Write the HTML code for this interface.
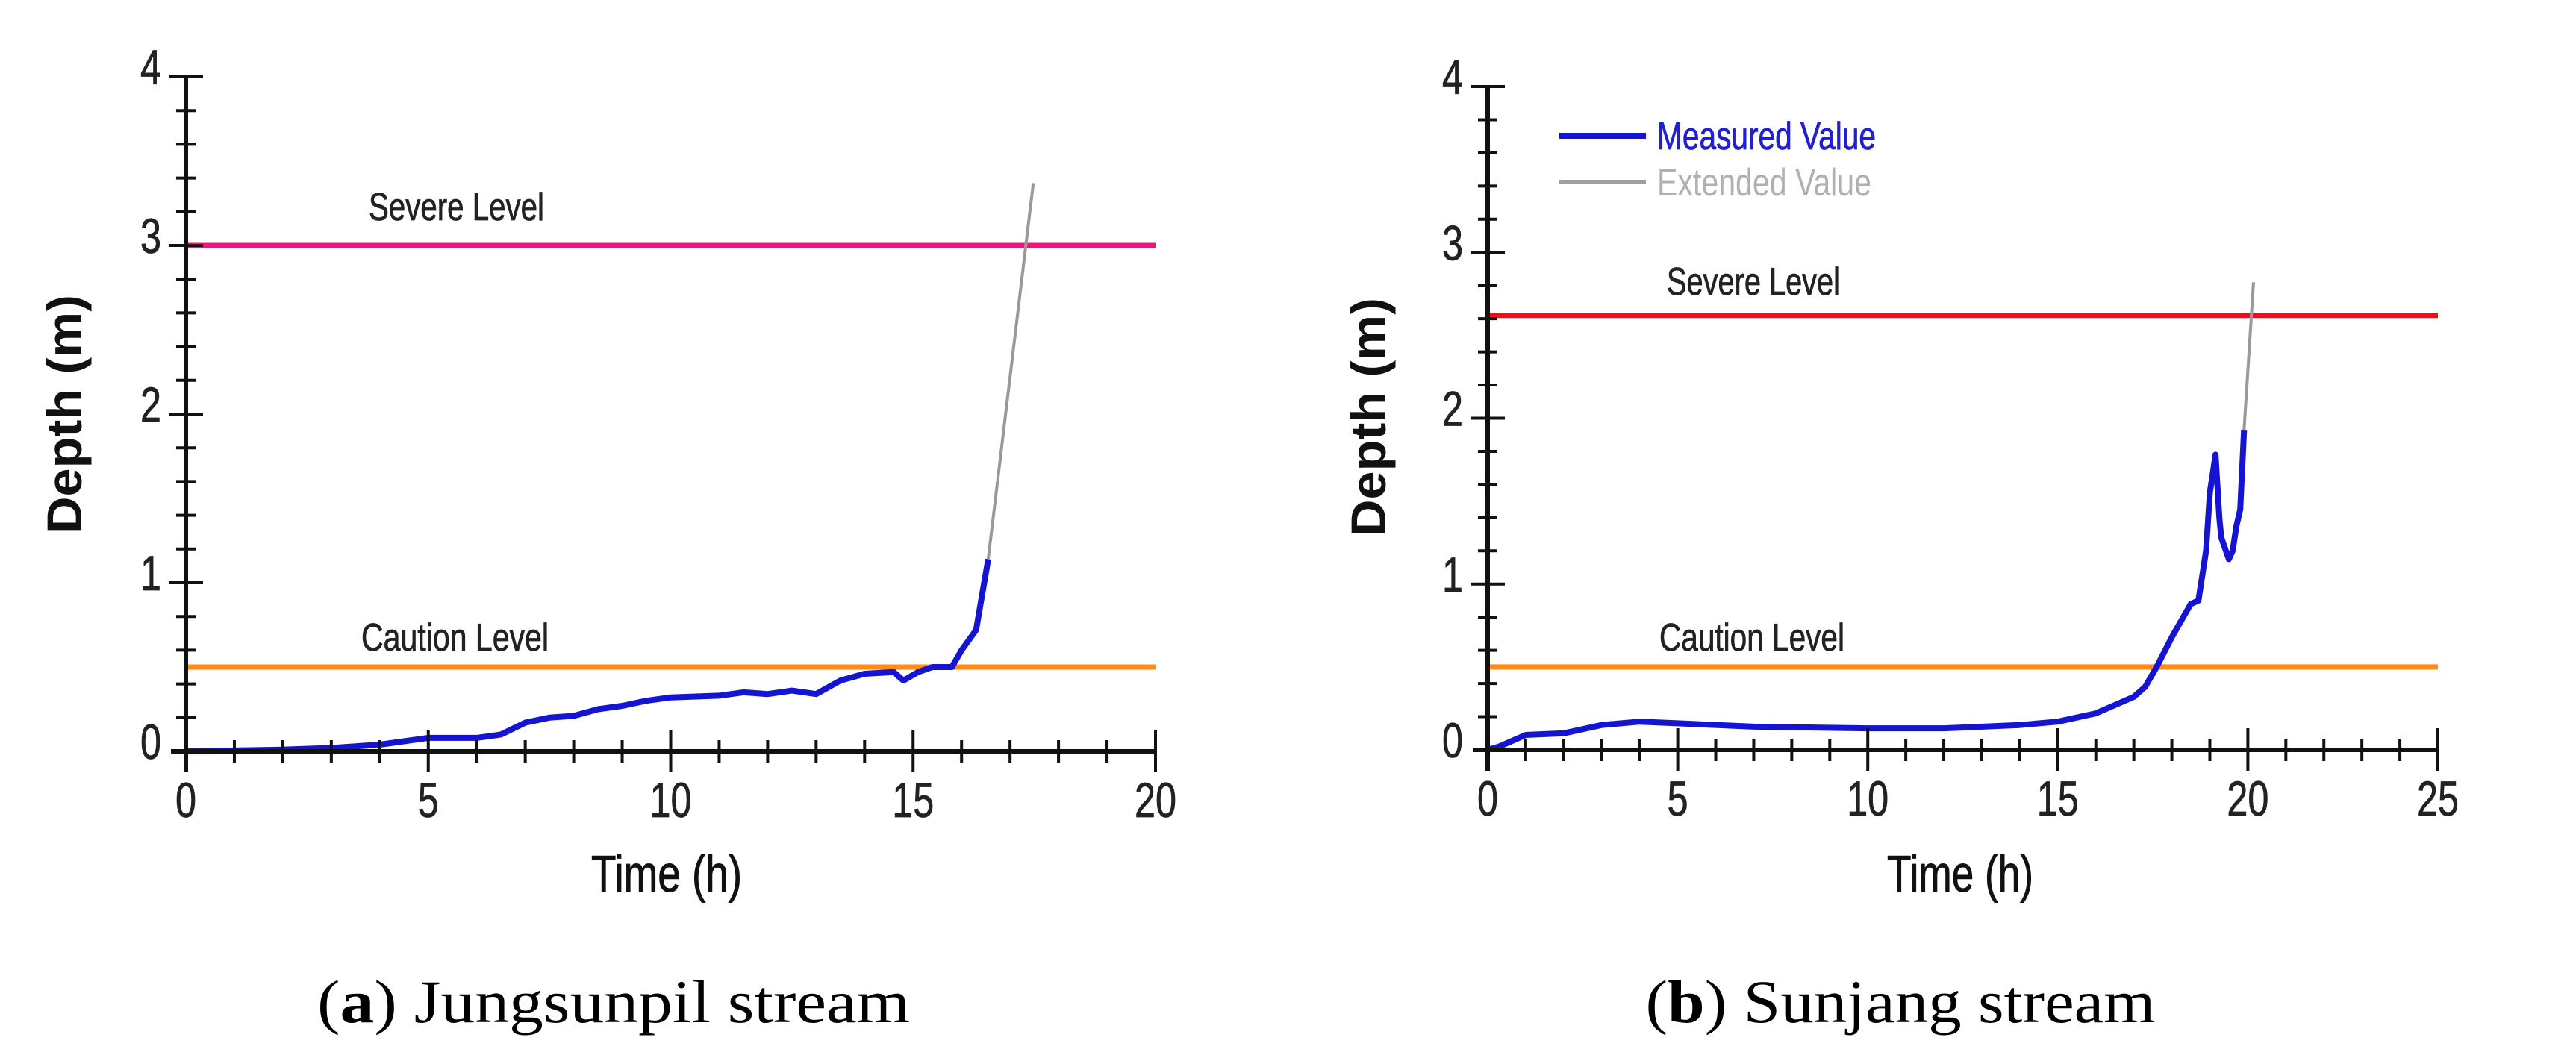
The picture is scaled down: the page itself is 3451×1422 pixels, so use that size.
<!DOCTYPE html>
<html><head><meta charset="utf-8"><style>
html,body{margin:0;padding:0;background:#fff;}
svg{display:block;}
</style></head><body>
<svg id="fig" width="3451" height="1422" viewBox="0 0 3451 1422" xmlns="http://www.w3.org/2000/svg" font-family="Liberation Sans, sans-serif">
<rect width="3451" height="1422" fill="#fff"/>
<g id="chartA"></g>
<g id="chartB"></g>
<text x="822" y="1370" font-family="Liberation Serif, serif" font-size="82" text-anchor="middle" textLength="794" lengthAdjust="spacingAndGlyphs">(<tspan font-weight="bold">a</tspan>) Jungsunpil stream</text>
<text x="2546" y="1370" font-family="Liberation Serif, serif" font-size="82" text-anchor="middle" textLength="683" lengthAdjust="spacingAndGlyphs">(<tspan font-weight="bold">b</tspan>) Sunjang stream</text>
</svg>
<script>
// Chart A data (Jungsunpil)
const aTimes = [0,2,3,4,5,6,6.5,7,7.5,8,8.5,9,9.5,10,11,11.5,12,12.5,13,13.5,14,14.6,14.8,15.1,15.4,15.8,16.0,16.3,16.55];
const aDepth = [0,0.01,0.02,0.04,0.08,0.08,0.1,0.17,0.2,0.21,0.25,0.27,0.3,0.32,0.33,0.35,0.34,0.36,0.34,0.42,0.46,0.47,0.42,0.47,0.5,0.5,0.6,0.72,1.14];
const aExtTimes = [16.55,17.48];
const aExtDepth = [1.14,3.37];
const aSevere = 3.0, aCaution = 0.5;
const aXTicks = ["0","5","10","15","20"];
const aYTicks = ["0","1","2","3","4"];
// Chart B data (Sunjang)
const bTimes = [0,0.3,0.6,1,2,3,4,5,7,10,12,14,15,16,16.5,17,17.3,17.6,18,18.3,18.5,18.7,18.9,19.0,19.15,19.25,19.3,19.5,19.6,19.7,19.8,19.9];
const bDepth = [0,0.02,0.05,0.09,0.1,0.15,0.17,0.16,0.14,0.13,0.13,0.15,0.17,0.22,0.27,0.32,0.38,0.5,0.68,0.8,0.88,0.9,1.2,1.55,1.78,1.4,1.28,1.15,1.2,1.35,1.45,1.93];
const bExtTimes = [19.9,20.15];
const bExtDepth = [1.93,2.82];
const bSevere = 2.62, bCaution = 0.5;
const bXTicks = ["0","5","10","15","20","25"];
const bYTicks = ["0","1","2","3","4"];

const NS="http://www.w3.org/2000/svg";
function mk(parent,tag,attrs,text){const e=document.createElementNS(NS,tag);for(const k in attrs)e.setAttribute(k,attrs[k]);if(text!==undefined)e.textContent=text;parent.appendChild(e);return e;}

function drawChart(g,cfg){
  const X=t=>cfg.x0+(t/cfg.xMax)*(cfg.x1-cfg.x0);
  const Y=v=>cfg.y0-(v/4)*(cfg.y0-cfg.y4);
  let e=mk(g,'line',{x1:X(0),x2:X(cfg.xMax),y1:Y(cfg.severe),y2:Y(cfg.severe),stroke:cfg.sevColor,'stroke-width':7});
  
  
  e=mk(g,'line',{x1:X(0),x2:X(cfg.xMax),y1:Y(cfg.caution),y2:Y(cfg.caution),stroke:'#ff8c1a','stroke-width':7});
  
  
  e=mk(g,'text',{x:cfg.sevLbl[0],y:cfg.sevLbl[1],'font-size':52,fill:'#222',stroke:'#222','stroke-width':0.8,textLength:cfg.sevLbl[2],lengthAdjust:'spacingAndGlyphs'},'Severe Level');
  
  
  e=mk(g,'text',{x:cfg.cauLbl[0],y:cfg.cauLbl[1],'font-size':52,fill:'#222',stroke:'#222','stroke-width':0.8,textLength:cfg.cauLbl[2],lengthAdjust:'spacingAndGlyphs'},'Caution Level');
  
  
  let d=cfg.times.map((t,i)=>(i?'L':'M')+X(t).toFixed(1)+','+Y(cfg.depth[i]).toFixed(1)).join(' ');
  e=mk(g,'path',{d:d,fill:'none',stroke:'#1414d2','stroke-width':8,'stroke-linejoin':'round'});
  
  
  d=cfg.extT.map((t,i)=>(i?'L':'M')+X(t).toFixed(1)+','+Y(cfg.extD[i]).toFixed(1)).join(' ');
  e=mk(g,'path',{d:d,fill:'none',stroke:'#999','stroke-width':4});
  
  
  e=mk(g,'line',{x1:X(0)-20,x2:X(cfg.xMax),y1:cfg.y0,y2:cfg.y0,stroke:'#111','stroke-width':6});
  
  
  e=mk(g,'line',{x1:X(0),x2:X(0),y1:cfg.y4,y2:cfg.y0+28,stroke:'#111','stroke-width':6});
  
  
  for(let t=1;t<=cfg.xMax;t++){
    const major=t%5===0;
    e=mk(g,'line',{x1:X(t),x2:X(t),y1:cfg.y0-(major?29:15),y2:cfg.y0+(major?28:15),stroke:'#111','stroke-width':4});
    
    
  }
  for(let k=1;k<=20;k++){
    const v=k*0.2, major=k%5===0;
    e=mk(g,'line',{x1:X(0)-(major?23:13),x2:X(0)+(major?23:13),y1:Y(v),y2:Y(v),stroke:'#111','stroke-width':4});
    
    
  }
  cfg.xTicks.forEach((s,i)=>{
    const el=mk(g,'text',{x:X(i*5),y:cfg.y0+88,'font-size':66,'text-anchor':'middle',fill:'#222',stroke:'#222','stroke-width':0.8,textLength:s.length*28,lengthAdjust:'spacingAndGlyphs'},s);
    
    
  });
  cfg.yTicks.forEach((s,i)=>{
    const el=mk(g,'text',{x:X(0)-33,y:Y(i)+10,'font-size':66,'text-anchor':'end',fill:'#222',stroke:'#222','stroke-width':0.8,textLength:28,lengthAdjust:'spacingAndGlyphs'},s);
    
    
  });
  e=mk(g,'text',{x:cfg.timeLbl[0],y:1195,'font-size':70,'text-anchor':'middle',fill:'#111',stroke:'#111','stroke-width':1,textLength:cfg.timeLbl[1],lengthAdjust:'spacingAndGlyphs'},'Time (h)');
  
  
  e=mk(g,'text',{x:0,y:0,'font-size':66,'font-weight':'bold','text-anchor':'middle',fill:'#111',textLength:320,lengthAdjust:'spacingAndGlyphs',transform:`translate(${cfg.depthLbl[0]+22},${cfg.depthLbl[1]}) rotate(-90)`},'Depth (m)');
  
  
}

drawChart(document.getElementById('chartA'),{x0:249,x1:1548,xMax:20,y0:1007,y4:103,times:aTimes,depth:aDepth,extT:aExtTimes,extD:aExtDepth,severe:aSevere,caution:aCaution,sevColor:'#f0147f',xTicks:aXTicks,yTicks:aYTicks,sevLbl:[494,295,235],cauLbl:[484,872,251],timeLbl:[893,202],depthLbl:[87,555]});
drawChart(document.getElementById('chartB'),{x0:1993,x1:3266,xMax:25,y0:1005,y4:116,times:bTimes,depth:bDepth,extT:bExtTimes,extD:bExtDepth,severe:bSevere,caution:bCaution,sevColor:'#e8101e',xTicks:bXTicks,yTicks:bYTicks,sevLbl:[2233,395,232],cauLbl:[2223,872,248],timeLbl:[2626,196],depthLbl:[1834,559]});

const gB=document.getElementById('chartB');
let lg=mk(gB,'g',{});


let l=mk(lg,'line',{x1:2089,x2:2205,y1:182,y2:182,stroke:'#1414d2','stroke-width':8});


l=mk(lg,'text',{x:2220,y:200,'font-size':52,fill:'#2020d0',stroke:'#2020d0','stroke-width':0.8,textLength:293,lengthAdjust:'spacingAndGlyphs'},'Measured Value');


l=mk(lg,'line',{x1:2089,x2:2205,y1:244,y2:244,stroke:'#a0a0a0','stroke-width':6});


l=mk(lg,'text',{x:2220,y:262,'font-size':52,fill:'#b0b0b0',textLength:287,lengthAdjust:'spacingAndGlyphs'},'Extended Value');


</script>
</body></html>
